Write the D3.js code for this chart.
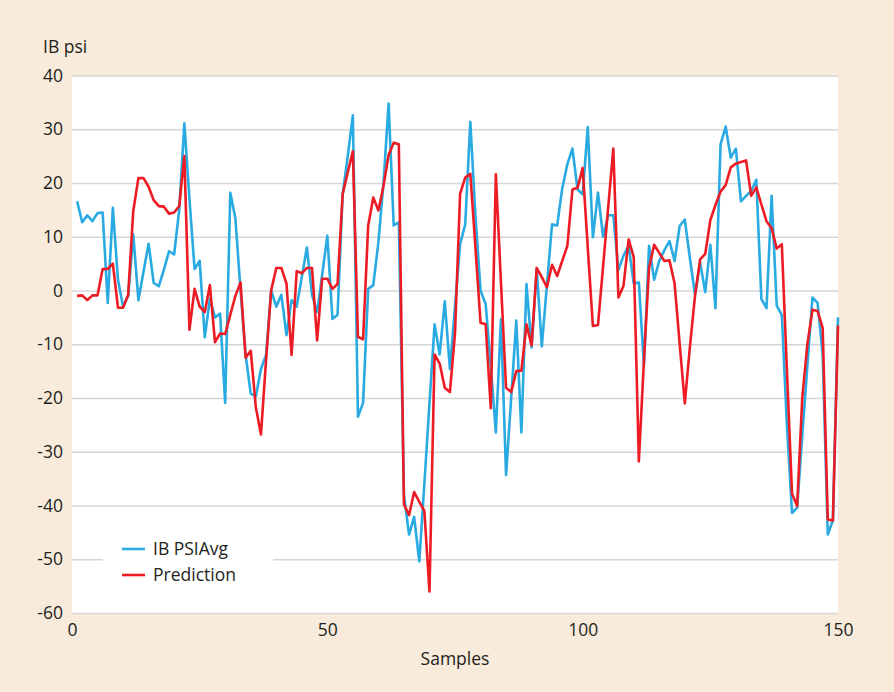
<!DOCTYPE html>
<html>
<head>
<meta charset="utf-8">
<script src="https://cdn.jsdelivr.net/npm/d3@7"></script>
<style>
  body { margin: 0; background: #f8ebdb; }
  svg text { font-family: "Open Sans", "Noto Sans", sans-serif; fill: #231f20; }
</style>
</head>
<body>
<div id="chart"></div>
<script>
// samples 1..150
var samples = d3.range(1, 151);

var ibPsiAvg = [16.6,12.7,14.0,12.9,14.4,14.5,-2.3,15.4,2.0,-3.0,
  -1.0,10.4,-1.8,3.5,8.7,1.4,0.8,3.9,7.3,6.7,
  15.0,31.1,17.0,4.0,5.5,-8.7,-1.5,-5.0,-4.3,-20.9,
  18.2,13.4,0.0,-12.0,-19.2,-19.7,-14.6,-12.0,0.0,-3.0,
  -0.8,-8.3,-1.8,-3.0,2.5,8.0,-0.8,-4.0,3.0,10.2,
  -5.3,-4.5,17.9,25.0,32.6,-23.5,-20.9,0.3,1.0,9.0,
  20.0,34.8,12.1,12.7,-38.0,-45.4,-42.1,-50.4,-36.0,-21.0,
  -6.3,-11.9,-2.0,-14.6,-3.0,8.6,12.3,31.4,14.0,0.0,
  -2.5,-14.0,-26.4,-5.4,-34.3,-20.0,-5.6,-26.4,1.2,-10.6,
  4.0,-10.4,1.0,12.3,12.1,19.0,23.5,26.4,18.8,17.9,
  30.4,9.9,18.2,10.0,14.0,14.0,3.8,6.5,8.3,1.3,
  1.5,-14.0,8.3,2.0,5.5,7.5,9.2,5.5,12.0,13.2,
  6.0,-0.8,5.2,-0.3,8.5,-3.3,27.2,30.5,24.7,26.4,
  16.6,17.6,18.5,20.6,-1.6,-3.3,17.6,-2.8,-4.6,-25.0,
  -41.4,-40.4,-27.0,-14.0,-1.3,-2.3,-12.0,-45.4,-42.8,-5.0];

var prediction = [-1.0,-0.9,-1.8,-0.9,-0.9,4.0,4.0,5.0,-3.2,-3.2,
  -0.8,14.8,20.9,20.9,19.3,16.8,15.7,15.6,14.3,14.5,
  15.7,25.0,-7.3,0.3,-3.0,-4.0,1.0,-9.6,-8.0,-8.1,
  -4.5,-1.0,1.5,-12.5,-11.2,-21.7,-26.8,-13.0,0.0,4.2,
  4.2,1.3,-12.0,3.6,3.2,4.2,4.2,-9.3,2.2,2.2,
  0.3,1.2,17.9,22.0,25.9,-8.6,-9.1,12.1,17.3,14.9,
  19.5,25.2,27.5,27.2,-39.8,-41.8,-37.5,-39.3,-41.0,-56.0,
  -11.9,-13.6,-18.1,-18.9,-8.0,18.0,21.0,21.7,8.0,-6.0,
  -6.3,-21.9,21.6,1.5,-18.1,-18.9,-15.0,-14.9,-6.3,-10.2,
  4.2,2.5,0.6,4.8,2.7,5.5,8.3,18.8,19.1,22.8,
  8.0,-6.6,-6.4,4.5,15.5,26.4,-1.3,0.9,9.5,6.2,
  -31.8,-13.0,4.2,8.5,7.0,5.5,5.6,1.3,-10.0,-21.0,
  -10.5,-1.0,5.8,6.8,13.1,15.9,18.4,19.6,22.9,23.6,
  23.9,24.2,17.6,19.2,16.0,12.9,11.6,7.8,8.6,-15.0,
  -37.8,-40.1,-20.0,-10.0,-3.6,-3.8,-7.0,-42.6,-42.8,-6.5];

var xTicks = [0, 50, 100, 150];
var yTicks = [-60, -50, -40, -30, -20, -10, 0, 10, 20, 30, 40];
var seriesNames = ["IB PSIAvg", "Prediction"];
var seriesColors = ["#29abe2", "#ed1c24"];

var svgWidth = 894, svgHeight = 692;
var margin = {top: 75.5, right: 56, bottom: 79, left: 72};
var width = svgWidth - margin.left - margin.right;
var height = svgHeight - margin.top - margin.bottom;

var svg = d3.select("#chart")
  .append("svg")
  .attr("width", svgWidth)
  .attr("height", svgHeight);

svg.append("rect")
  .attr("width", svgWidth)
  .attr("height", svgHeight)
  .attr("fill", "#f8ebdb");

var chartGroup = svg.append("g")
  .attr("transform", `translate(${margin.left},${margin.top})`);

var xScale = d3.scaleLinear().domain([0, 150]).range([0, width]);
var yScale = d3.scaleLinear().domain([-60, 40]).range([height, 0]);

chartGroup.append("rect")
  .attr("width", width)
  .attr("height", height)
  .attr("fill", "#fff");

// gridlines + y labels (plain hyphen for negatives)
var leftAxis = d3.axisLeft(yScale)
  .tickValues(yTicks)
  .tickSize(-width)
  .tickPadding(9)
  .tickFormat(d => String(d));
var yAxisG = chartGroup.append("g").call(leftAxis);
yAxisG.select(".domain").remove();
yAxisG.selectAll("line").attr("stroke", "#d6d6d6").attr("stroke-width", 1.3);
yAxisG.selectAll("text").style("font-size", "17.5px").attr("fill", "#231f20");

var bottomAxis = d3.axisBottom(xScale).tickValues(xTicks).tickSize(0).tickPadding(11)
  .tickFormat(d => String(d));
var xAxisG = chartGroup.append("g")
  .attr("transform", `translate(0, ${height})`)
  .call(bottomAxis);
xAxisG.select(".domain").remove();
xAxisG.selectAll("text").style("font-size", "17.5px").attr("fill", "#231f20");

var drawLine = d3.line()
  .x((d, i) => xScale(samples[i]))
  .y(d => yScale(d));

[ibPsiAvg, prediction].forEach((s, k) => {
  chartGroup.append("path")
    .attr("d", drawLine(s))
    .attr("fill", "none")
    .attr("stroke", seriesColors[k])
    .attr("stroke-width", 2.6)
    .attr("stroke-linejoin", "round");
});

// legend
var legend = svg.append("g").attr("transform", "translate(103,530)");
legend.append("rect").attr("width", 170).attr("height", 62).attr("fill", "#fff");
seriesNames.forEach((name, i) => {
  var row = legend.append("g").attr("transform", `translate(0, ${19 + i * 26})`);
  row.append("line")
    .attr("x1", 19).attr("x2", 42)
    .attr("stroke", seriesColors[i]).attr("stroke-width", 2.6);
  row.append("text")
    .attr("x", 50).attr("dy", "0.35em")
    .style("font-size", "17.5px")
    .text(name);
});

svg.append("text")
  .attr("x", 43).attr("y", 53)
  .style("font-size", "17.5px")
  .text("IB psi");

svg.append("text")
  .attr("x", margin.left + width / 2).attr("y", 665)
  .attr("text-anchor", "middle")
  .style("font-size", "17.5px")
  .text("Samples");
</script>
</body>
</html>
